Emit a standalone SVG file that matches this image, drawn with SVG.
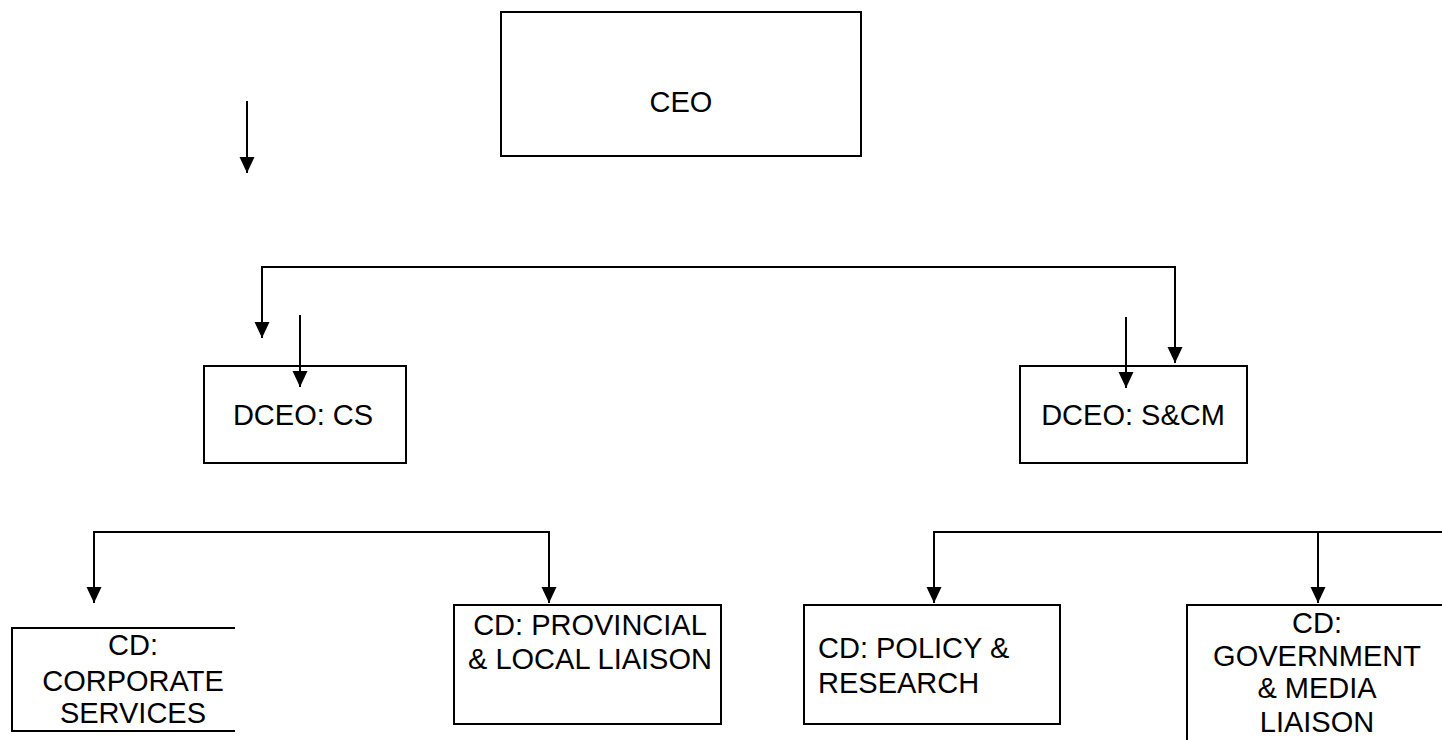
<svg xmlns="http://www.w3.org/2000/svg" width="1442" height="740" viewBox="0 0 1442 740">
<style>
.box{fill:#fff;stroke:#000;stroke-width:2}
.ln{fill:none;stroke:#000;stroke-width:2}
.t{font-family:"Liberation Sans",Arial,sans-serif;font-size:29px;fill:#000}
.c{text-anchor:middle}
</style>
<defs>
<marker id="ah" markerUnits="userSpaceOnUse" markerWidth="18" markerHeight="18" refX="16" refY="7.5" orient="auto">
<path d="M0,0 L16,7.5 L0,15 z" fill="#000"/>
</marker>
</defs>
<rect width="1442" height="740" fill="#fff"/>
<g id="ceo">
<rect class="box" x="501" y="12" width="360" height="144"/>
<text class="t c" x="681" y="112">CEO</text>
</g>
<g id="dceo-cs">
<rect class="box" x="204" y="366" width="202" height="97"/>
<text class="t c" x="303" y="425">DCEO: CS</text>
</g>
<g id="dceo-scm">
<rect class="box" x="1020" y="366" width="227" height="97"/>
<text class="t c" x="1133" y="425">DCEO: S&amp;CM</text>
</g>
<g id="cd-corporate">
<path class="ln" d="M235,628 H12 V731 H235" style="fill:#fff"/>
<text class="t c" x="133" y="655">CD:</text>
<text class="t c" x="133" y="691">CORPORATE</text>
<text class="t c" x="133" y="723">SERVICES</text>
</g>
<g id="cd-provincial">
<rect class="box" x="454" y="605" width="267" height="119"/>
<text class="t c" x="590" y="635">CD: PROVINCIAL</text>
<text class="t c" x="590" y="669">&amp; LOCAL LIAISON</text>
</g>
<g id="cd-policy">
<rect class="box" x="804" y="605" width="256" height="119"/>
<text class="t" x="818" y="658">CD: POLICY &amp;</text>
<text class="t" x="818" y="693">RESEARCH</text>
</g>
<g id="cd-government">
<path class="ln" d="M1187,742 V605 H1444" style="fill:#fff"/>
<text class="t c" x="1317" y="633">CD:</text>
<text class="t c" x="1317" y="666">GOVERNMENT</text>
<text class="t c" x="1317" y="698">&amp; MEDIA</text>
<text class="t c" x="1317" y="732">LIAISON</text>
</g>
<g id="connectors">
<path class="ln" d="M247,101 V173" marker-end="url(#ah)"/>
<path class="ln" d="M262,267 V338" marker-end="url(#ah)"/>
<path class="ln" d="M261,267 H1175 V363" marker-end="url(#ah)"/>
<path class="ln" d="M300,315 V387" marker-end="url(#ah)"/>
<path class="ln" d="M1126,317 V388" marker-end="url(#ah)"/>
<path class="ln" d="M94,532 V603" marker-end="url(#ah)"/>
<path class="ln" d="M93,532 H549 V603" marker-end="url(#ah)"/>
<path class="ln" d="M934,532 V603" marker-end="url(#ah)"/>
<path class="ln" d="M933,532 H1444"/>
<path class="ln" d="M1318,532 V603" marker-end="url(#ah)"/>
</g>
</svg>
